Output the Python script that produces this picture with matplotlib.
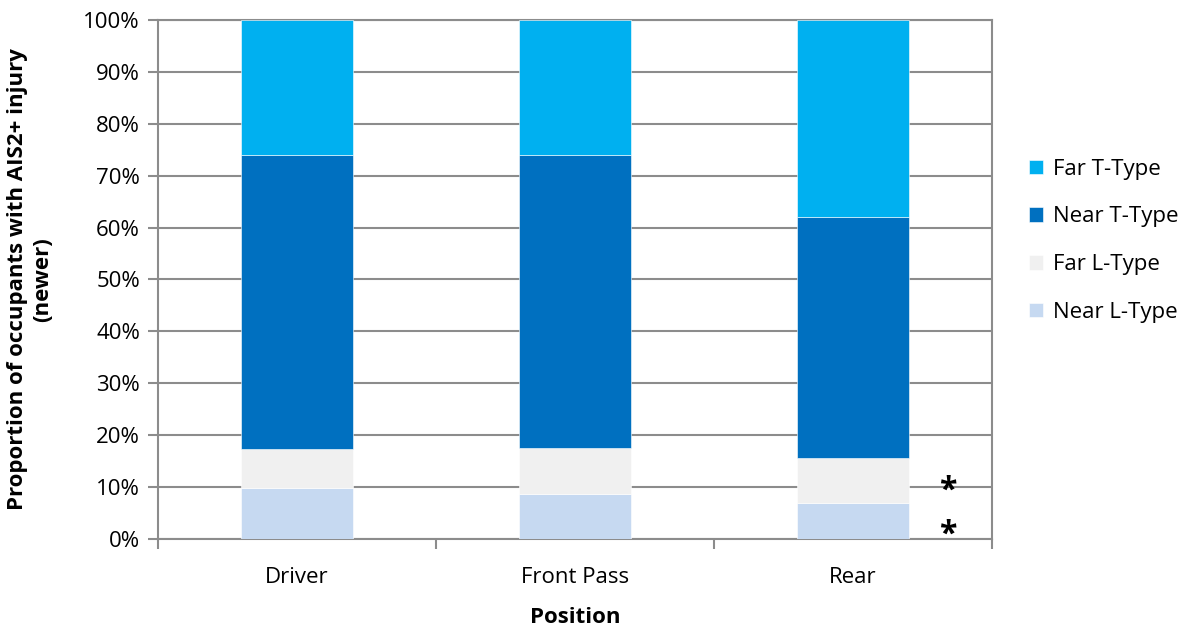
import matplotlib.pyplot as plt
import numpy as np

plt.rcParams['font.family'] = ['Open Sans', 'DejaVu Sans']

positions = ["Driver", "Front Pass", "Rear"]
near_l = [9.8, 8.7, 6.9]
far_l = [7.5, 8.8, 8.7]
near_t = [56.7, 56.5, 46.4]
far_t = [26.0, 26.0, 38.0]

series = [
    ("Near L-Type", near_l, "#C6D9F1"),
    ("Far L-Type", far_l, "#F0F0F0"),
    ("Near T-Type", near_t, "#0070C0"),
    ("Far T-Type", far_t, "#00B0F0"),
]

grid_col = "#8C8C8C"

fig = plt.figure(figsize=(11.91, 6.27), dpi=100)
ax = fig.add_axes([0.1327, 0.1404, 0.7003, 0.8277])

x = np.arange(len(positions))
bottom = np.zeros(len(positions))
handles = []
for name, vals, col in series:
    b = ax.bar(x, vals, 0.4, bottom=bottom, color=col, edgecolor="white",
               linewidth=0.4, label=name, zorder=3)
    handles.append(b)
    bottom += np.array(vals)

# asterisks next to the rear bar
ax.text(2.34, 9.3, "*", fontsize=23, fontweight="bold", ha="center", va="center", zorder=4)
ax.text(2.34, 0.8, "*", fontsize=23, fontweight="bold", ha="center", va="center", zorder=4)

ax.set_xlim(-0.5, 2.5)
ax.set_ylim(0, 100)
ax.set_yticks(np.arange(0, 101, 10))
ax.set_yticklabels([f"{v}%" for v in range(0, 101, 10)])
ax.set_xticks(x)
ax.set_xticklabels(positions)
ax.set_xticks([-0.5, 0.5, 1.5, 2.5], minor=True)
ax.tick_params(axis="x", which="major", length=0, pad=20, labelsize=16)
ax.tick_params(axis="x", which="minor", length=7, width=1.5, color=grid_col, direction="out")
ax.tick_params(axis="y", length=7, width=1.5, color=grid_col, labelsize=16, pad=6)
ax.yaxis.grid(True, color=grid_col, linewidth=1.5, zorder=0)
ax.set_axisbelow(True)
for s in ax.spines.values():
    s.set_color(grid_col)
    s.set_linewidth(1.5)

ax.set_xlabel("Position", fontsize=16, fontweight="bold", labelpad=14)
ax.set_ylabel("Proportion of occupants with AIS2+ injury\n(newer)", fontsize=16,
              fontweight="bold", labelpad=22, linespacing=1.25)

fig.legend(handles[::-1], [h.get_label() for h in handles[::-1]],
           loc="center left", bbox_to_anchor=(0.847, 0.616), frameon=False,
           fontsize=16, handlelength=0.65, handleheight=0.65, labelspacing=1.2,
           handletextpad=0.45)

fig.savefig("out.png", dpi=100)
